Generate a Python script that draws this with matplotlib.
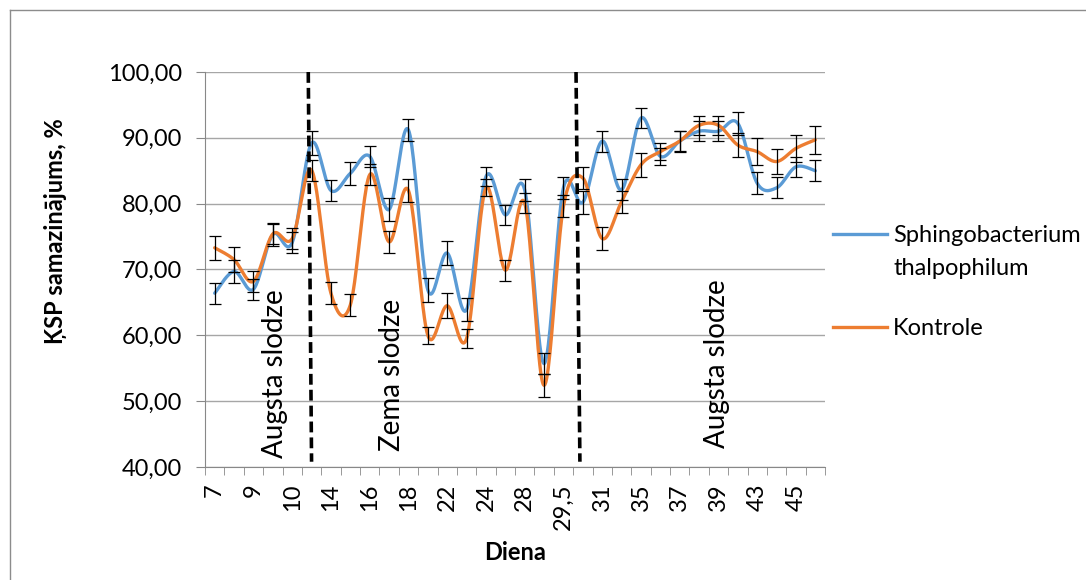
import numpy as np
import matplotlib
matplotlib.use("Agg")
import matplotlib.pyplot as plt
from matplotlib.lines import Line2D

# day categories (only every second label is shown on the axis)
days = ["7", "8", "9", "9,5", "10", "11", "14", "15", "16", "17", "18", "21",
        "22", "23", "24", "25", "28", "29", "29,5", "30", "31", "32", "35", "36",
        "37", "38", "39", "42", "43", "44", "45", "46"]

sphingo = [66.4, 69.7, 67.0, 75.3, 74.1, 89.2, 82.0, 84.6, 87.2, 79.1, 91.2, 66.9,
           72.5, 63.9, 84.1, 78.3, 82.1, 55.7, 82.4, 80.2, 89.5, 82.1, 93.0, 87.2,
           89.5, 91.0, 91.0, 92.2, 83.1, 82.4, 85.6, 85.0]
sphingo_err = [1.6, 1.7, 1.6, 1.7, 1.6, 1.8, 1.6, 1.7, 1.6, 1.8, 1.7, 1.8,
               1.8, 1.7, 1.4, 1.5, 1.7, 1.6, 1.7, 1.7, 1.6, 1.6, 1.5, 1.3,
               1.6, 1.5, 1.5, 1.7, 1.7, 1.6, 1.5, 1.6]

kontrole = [73.3, 71.5, 68.2, 75.4, 74.7, 85.1, 66.4, 64.6, 84.4, 74.2, 82.0, 60.0,
            64.5, 59.5, 82.4, 69.9, 80.1, 52.4, 79.6, 83.9, 74.7, 80.3, 85.9, 87.9,
            89.5, 91.9, 91.9, 88.9, 87.9, 86.4, 88.4, 89.7]
kontrole_err = [1.8, 1.9, 1.6, 1.5, 1.6, 1.6, 1.7, 1.7, 1.6, 1.7, 1.8, 1.3,
                1.9, 1.4, 1.3, 1.6, 1.5, 1.7, 1.7, 1.7, 1.7, 1.7, 1.8, 1.3,
                1.5, 1.4, 1.4, 1.8, 2.0, 1.9, 2.0, 2.1]

# phase borders (category position, top -> bottom) and phase names
borders = [(4.83, 5.0), (18.65, 18.85)]
phases = ["Augsta slodze", "Zema slodze", "Augsta slodze"]
phase_x = [3.1, 9.15, 25.9]
phase_y = [41.3, 42.5, 42.9]

BLUE = "#5B9BD5"
ORANGE = "#ED7D31"
FONT = "Lato"
W, H = 1086, 580


def smooth(x, y, n=24):
    # Excel style smoothed line (bezier through the points)
    pts = np.column_stack([x, y]).astype(float)
    out = []
    for i in range(len(pts) - 1):
        p0 = pts[i - 1] if i > 0 else pts[i]
        p1 = pts[i]
        p2 = pts[i + 1]
        p3 = pts[i + 2] if i + 2 < len(pts) else pts[i + 1]
        c1 = p1 + (p2 - p0) / 6.0
        c2 = p2 - (p3 - p1) / 6.0
        t = np.linspace(0, 1, n)[:, None]
        seg = ((1 - t) ** 3) * p1 + 3 * ((1 - t) ** 2) * t * c1 + 3 * (1 - t) * t ** 2 * c2 + t ** 3 * p2
        out.append(seg if i == 0 else seg[1:])
    out = np.vstack(out)
    return out[:, 0], out[:, 1]


def main():
    plt.rcParams["font.family"] = [FONT, "DejaVu Sans"]
    fig = plt.figure(figsize=(W / 100, H / 100), dpi=100)
    ax = fig.add_axes([205 / W, 1 - 467 / H, 620 / W, 395 / H])

    x = np.arange(len(days))

    series = [(sphingo, sphingo_err, BLUE), (kontrole, kontrole_err, ORANGE)]
    for vals, errs, col in series:
        sx, sy = smooth(x, vals)
        ax.plot(sx, sy, color=col, lw=2.4, zorder=3, solid_capstyle="round")
        ax.errorbar(x, vals, yerr=errs, fmt="none", ecolor="black", elinewidth=0.9,
                    capsize=4.5, capthick=0.9, zorder=4)

    for (xt, xb) in borders:
        ax.plot([xt, xb], [100, 40.8], color="black", lw=2.6, ls=(0, (3, 1.4)), zorder=5)

    for txt, px, py in zip(phases, phase_x, phase_y):
        ax.text(px, py, txt, rotation=90, ha="center", va="bottom", fontsize=20, zorder=6)

    ax.set_xlim(-0.5, len(days) - 0.5)
    ax.set_ylim(40, 100)
    ax.set_yticks(np.arange(40, 101, 10))
    ax.set_yticklabels(["%d,00" % v for v in range(40, 101, 10)], fontsize=17)
    ax.set_xticks(x[::2])
    ax.set_xticklabels(days[::2], rotation=90, fontsize=17)
    ax.set_xticks(np.arange(-0.5, len(days), 1), minor=True)
    ax.tick_params(axis="x", which="major", length=0, pad=12)
    ax.tick_params(axis="x", which="minor", length=6, color="#888888")
    ax.tick_params(axis="y", length=6.5, color="#888888", pad=10)

    ax.grid(axis="y", color="#a6a6a6", lw=1)
    ax.set_axisbelow(True)
    for s in ["top", "right"]:
        ax.spines[s].set_visible(False)
    for s in ["left", "bottom"]:
        ax.spines[s].set_color("#888888")

    ax.set_ylabel("ĶSP samazinājums, %", fontsize=17, fontweight="bold")
    ax.yaxis.set_label_coords((67 - 205) / 620, (467 - 231) / 395)
    ax.set_xlabel("Diena", fontsize=17, fontweight="bold")
    ax.xaxis.set_label_coords((515 - 205) / 620, (467 - 541) / 395)

    # legend to the right of the plot, first line of each label next to its line
    legend_rows = [(BLUE, 234, ["Sphingobacterium", "thalpophilum"], [242, 275]),
                   (ORANGE, 327, ["Kontrole"], [335])]
    for col, ly, lines, bases in legend_rows:
        fig.add_artist(Line2D([833 / W, 887 / W], [1 - ly / H, 1 - ly / H],
                              transform=fig.transFigure, color=col, lw=2.4))
        for txt, b in zip(lines, bases):
            fig.text(893 / W, 1 - b / H, txt, fontsize=17, va="baseline", ha="left")

    # chart area border (runs off the picture at right and bottom)
    fig.add_artist(Line2D([10 / W, 1.0], [1 - 10 / H, 1 - 10 / H],
                          transform=fig.transFigure, color="#8c8c8c", lw=1))
    fig.add_artist(Line2D([10 / W, 10 / W], [0, 1 - 10 / H],
                          transform=fig.transFigure, color="#8c8c8c", lw=1))

    fig.savefig("out.png", dpi=100)


if __name__ == "__main__":
    main()
